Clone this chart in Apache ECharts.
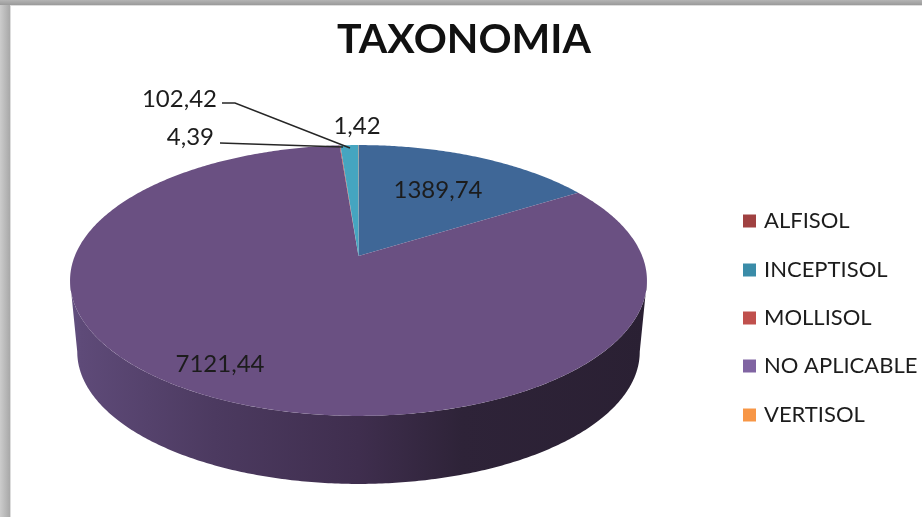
<!DOCTYPE html>
<html>
<head>
<meta charset="utf-8">
<style>html,body{margin:0;padding:0;background:#fff}#c{width:922px;height:517px}</style>
<script src="https://cdn.jsdelivr.net/npm/echarts@6/dist/echarts.min.js"></script>
</head>
<body>
<div id="c"></div>
<script>
// Data: slices clockwise from 12 o'clock
const sliceNames = ['', 'NO APLICABLE', 'MOLLISOL', 'INCEPTISOL', 'VERTISOL'];
const sliceValues = [1389.74, 7121.44, 4.39, 102.42, 1.42];
const sliceLabels = ['1389,74', '7121,44', '4,39', '102,42', '1,42'];
const sliceColors = ['#3F6797', '#6A5082', '#C0504D', '#45A5C0', '#F79646'];
const legendNames = ['ALFISOL', 'INCEPTISOL', 'MOLLISOL', 'NO APLICABLE', 'VERTISOL'];
const legendColors = ['#A04141', '#3A8CA8', '#C0504D', '#8064A2', '#F79646'];

// Layout
const CX = 358.5, CY = 256, K = 283.7, KY = 131, C = 0.1808;
const BOTTOM_SCALE = 0.975, BOTTOM_CY = 328;
const labelBoxes = [
  {x: 438, y: 190, align: 'center'},
  {x: 220, y: 364, align: 'center'},
  {x: 214, y: 137, align: 'right'},
  {x: 217, y: 99, align: 'right'},
  {x: 357, y: 126, align: 'center'}
];
const leaders = [
  null, null,
  [[220, 143], [343, 147]],
  [[222, 103], [235, 103], [350, 148]],
  null
];
const FONT = 'Lato';
const total = sliceValues.reduce((a, b) => a + b, 0);

function project(theta, r, bottom) {
  const u = r * Math.sin(theta), v = -r * Math.cos(theta), d = 1 - C * v;
  const s = bottom ? BOTTOM_SCALE : 1;
  return [CX + s * K * u / d, (bottom ? BOTTOM_CY : CY) + s * KY * v / d];
}
function arc(a, b, bottom) {
  const pts = [], n = Math.max(2, Math.ceil((b - a) / 0.01));
  for (let i = 0; i <= n; i++) pts.push(project(a + (b - a) * i / n, 1, bottom));
  return pts;
}
const WALL_A = Math.acos(-C), WALL_B = 2 * Math.PI - WALL_A;
const wallGradient = {
  type: 'linear', x: 0, y: 0, x2: 1, y2: 0,
  colorStops: [
    {offset: 0, color: '#625080'}, {offset: 0.02, color: '#5E4A78'},
    {offset: 0.25, color: '#4C3A60'}, {offset: 0.5, color: '#3F2E4E'},
    {offset: 0.68, color: '#2E2338'}, {offset: 1, color: '#2A2033'}
  ]
};
function sliceRange(i) {
  let s = 0;
  for (let j = 0; j < i; j++) s += sliceValues[j];
  return [s / total * 2 * Math.PI, (s + sliceValues[i]) / total * 2 * Math.PI];
}
function renderSlice(i) {
  const [a, b] = sliceRange(i);
  const children = [];
  const wa = Math.max(a, WALL_A), wb = Math.min(b, WALL_B);
  if (wb > wa) {
    children.push({
      type: 'polygon',
      shape: {points: arc(wa, wb, false).concat(arc(wa, wb, true).reverse())},
      style: {fill: wallGradient}, z2: 1
    });
  }
  children.push({
    type: 'polygon',
    shape: {points: [[CX, CY]].concat(arc(a, b, false))},
    style: {fill: sliceColors[i]}, z2: 2
  });
  if (leaders[i]) {
    children.push({
      type: 'polyline', shape: {points: leaders[i]},
      style: {stroke: '#262626', lineWidth: 1.4, fill: null}, z2: 5
    });
  }
  const lb = labelBoxes[i];
  children.push({
    type: 'text', z2: 6, x: lb.x, y: lb.y,
    style: {text: sliceLabels[i], fill: '#1c1c1c', font: '24px ' + FONT,
      textAlign: lb.align, textVerticalAlign: 'middle'}
  });
  return {type: 'group', children};
}

const series = [];
sliceValues.forEach((v, i) => {
  series.push({
    type: 'custom', coordinateSystem: 'none', name: sliceNames[i] || 'slice' + i,
    data: [[v]], silent: true, z: 2,
    itemStyle: {color: sliceColors[i]},
    renderItem: () => renderSlice(i)
  });
});

const chart = echarts.init(document.getElementById('c'), null, {renderer: 'canvas'});
chart.setOption({
  animation: false,
  backgroundColor: '#ffffff',
  title: {
    text: 'TAXONOMIA', left: 459, top: 14, textAlign: 'center',
    textStyle: {fontFamily: FONT, fontWeight: 700, fontSize: 41, color: '#111'}
  },
  legend: legendNames.map((n, i) => ({
    data: [{name: n, icon: 'rect', itemStyle: {color: legendColors[i]}}],
    left: 738, top: [205, 254, 302, 350, 399][i], itemWidth: 13, itemHeight: 13, itemGap: 0,
    selectedMode: false,
    textStyle: {fontFamily: FONT, fontSize: 22, color: '#1c1c1c', padding: [0, 0, 0, 3]}
  })),
  graphic: [
    {type: 'rect', shape: {x: 0, y: 0, width: 10, height: 517}, silent: true, z: -1,
     style: {fill: {type: 'linear', x: 0, y: 0, x2: 1, y2: 0, colorStops: [{offset: 0, color: '#cccccc'}, {offset: 1, color: '#a8a8a8'}]}}},
    {type: 'rect', shape: {x: 10, y: 5, width: 1, height: 512}, silent: true, z: -1, style: {fill: '#dddddd'}},
    {type: 'rect', shape: {x: 0, y: 0, width: 922, height: 5}, silent: true, z: -1,
     style: {fill: {type: 'linear', x: 0, y: 0, x2: 0, y2: 1, colorStops: [{offset: 0, color: '#b4b4b4'}, {offset: 1, color: '#9a9a9a'}]}}},
    {type: 'rect', shape: {x: 10, y: 5, width: 912, height: 1}, silent: true, z: -1, style: {fill: '#dddddd'}}
  ],
  series: series.concat(legendNames.filter(n => !sliceNames.includes(n)).map(n => ({
    type: 'custom', coordinateSystem: 'none', name: n, data: [], renderItem: () => null
  })))
});
</script>
</body>
</html>
